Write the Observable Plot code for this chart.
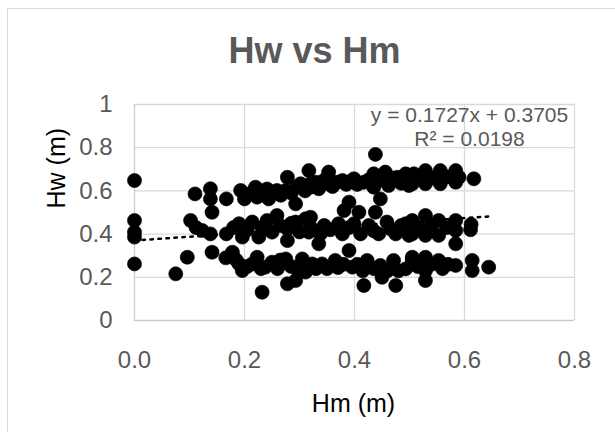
<!DOCTYPE html>
<html><head><meta charset="utf-8">
<script src="https://cdn.jsdelivr.net/npm/d3@7"></script>
<script src="https://cdn.jsdelivr.net/npm/@observablehq/plot@0.6"></script>
<style>
html,body{margin:0;padding:0;background:#fff;overflow:hidden;width:615px;height:432px;}
#frame{position:absolute;left:7px;top:8px;width:700px;height:500px;border-left:1px solid #d9d9d9;border-top:1px solid #d9d9d9;}
#chart{position:absolute;left:0;top:0;}
</style></head><body>
<div id="frame"></div><div id="chart"></div>
<script>
const title = "Hw vs Hm";
const xTitle = "Hm (m)";
const yTitle = "Hw (m)";

// points near x = 0 and the sparse left side
const hmEdge = [0,0,0,0,0, 0.075,0.096,0.110,0.102,0.112,0.123,0.138,0.138,0.141,0.138,0.141,0.167,0.167,0.178,0.166];
const hwEdge = [0.648,0.463,0.409,0.386,0.262, 0.216,0.293,0.586,0.463,0.430,0.417,0.610,0.563,0.501,0.401,0.316,0.563,0.401,0.316,0.290];

// upper band
const hmUpper = [0.193,0.200,0.212,0.220,0.223,0.232,0.241,0.244,0.250,0.259,
  0.266,0.275,0.278,0.285,0.293,0.295,0.302,0.310,0.317,0.320,
  0.320,0.330,0.335,0.345,0.353,0.353,0.360,0.368,0.378,0.385,
  0.393,0.399,0.405,0.417,0.425,0.435,0.435,0.438,0.447,0.447,
  0.456,0.462,0.468,0.478,0.485,0.493,0.499,0.505,0.508,0.518,
  0.529,0.529,0.540,0.556,0.556,0.568,0.584,0.590,0.584,0.617];
const hwUpper = [0.602,0.563,0.590,0.617,0.571,0.600,0.609,0.563,0.590,0.602,
  0.580,0.602,0.663,0.590,0.540,0.620,0.633,0.600,0.694,0.617,
  0.633,0.640,0.610,0.650,0.687,0.633,0.620,0.640,0.648,0.630,
  0.645,0.656,0.630,0.640,0.650,0.679,0.617,0.769,0.563,0.650,
  0.687,0.625,0.660,0.663,0.635,0.679,0.625,0.633,0.679,0.660,
  0.694,0.633,0.660,0.694,0.633,0.665,0.694,0.663,0.640,0.656];

// middle band
const hmMiddle = [0.180,0.190,0.196,0.205,0.214,0.226,0.232,0.241,0.250,0.259,
  0.265,0.278,0.278,0.285,0.293,0.300,0.311,0.317,0.320,0.320,
  0.338,0.335,0.345,0.356,0.371,0.378,0.390,0.399,0.411,0.426,
  0.435,0.444,0.459,0.465,0.475,0.485,0.493,0.499,0.505,0.505,
  0.518,0.529,0.529,0.540,0.553,0.553,0.568,0.584,0.584,0.584,
  0.612,0.611,0.381,0.390,0.408,0.438];
const hwMiddle = [0.430,0.448,0.386,0.420,0.456,0.386,0.430,0.463,0.409,0.486,
  0.440,0.424,0.370,0.450,0.456,0.410,0.471,0.409,0.478,0.432,
  0.401,0.355,0.440,0.420,0.448,0.401,0.430,0.448,0.401,0.440,
  0.415,0.401,0.456,0.425,0.401,0.440,0.448,0.394,0.463,0.401,
  0.430,0.486,0.394,0.440,0.463,0.394,0.430,0.463,0.417,0.355,
  0.445,0.420,0.509,0.548,0.501,0.501];

// lower band
const hmLower = [0.185,0.190,0.196,0.205,0.214,0.223,0.230,0.238,0.250,0.260,
  0.265,0.275,0.278,0.285,0.293,0.298,0.305,0.311,0.320,0.323,
  0.330,0.341,0.350,0.365,0.370,0.380,0.390,0.396,0.405,0.415,
  0.417,0.423,0.435,0.447,0.450,0.460,0.471,0.475,0.480,0.493,
  0.505,0.505,0.515,0.529,0.529,0.529,0.540,0.553,0.560,0.570,
  0.584,0.614,0.614,0.644,0.232];
const hwLower = [0.280,0.262,0.231,0.250,0.262,0.293,0.240,0.247,0.270,0.240,
  0.280,0.285,0.170,0.250,0.185,0.230,0.285,0.224,0.247,0.262,
  0.240,0.262,0.240,0.278,0.245,0.260,0.324,0.247,0.260,0.230,
  0.162,0.278,0.240,0.255,0.200,0.230,0.278,0.162,0.230,0.239,
  0.293,0.278,0.250,0.293,0.185,0.230,0.260,0.278,0.240,0.260,
  0.255,0.278,0.231,0.247,0.131];

const xTicks = [0, 0.2, 0.4, 0.6, 0.8];
const xTickLabels = ["0.0", "0.2", "0.4", "0.6", "0.8"];
const yTicks = [0, 0.2, 0.4, 0.6, 0.8, 1];
const yTickLabels = ["0", "0.2", "0.4", "0.6", "0.8", "1"];

const trendSlope = 0.1727;
const trendIntercept = 0.3705;
const trendLabels = ["y = 0.1727x + 0.3705", "R² = 0.0198"];

const hm = [...hmEdge, ...hmUpper, ...hmMiddle, ...hmLower];
const hw = [...hwEdge, ...hwUpper, ...hwMiddle, ...hwLower];
const points = hm.map((x, i) => ({x, y: hw[i]}));
const xMax = d3.max(hm);
const trend = [0, xMax].map(x => ({x, y: trendIntercept + trendSlope * x}));

const font = "'Liberation Sans', Arial, Helvetica, sans-serif";
const gridColor = "#d9d9d9";
const textGray = "#595959";

const chart = Plot.plot({
  width: 615,
  height: 432,
  marginLeft: 134,
  marginRight: 41,
  marginTop: 104,
  marginBottom: 112,
  style: {fontFamily: font, background: "transparent", overflow: "visible"},
  x: {domain: [0, 0.8]},
  y: {domain: [0, 1]},
  marks: [
    Plot.gridX(xTicks.filter(d => d > 0), {stroke: gridColor, strokeOpacity: 1, strokeWidth: 1.3}),
    Plot.gridY(yTicks.filter(d => d > 0), {stroke: gridColor, strokeOpacity: 1, strokeWidth: 1.3}),
    Plot.ruleX([0], {stroke: "#cccccc", strokeWidth: 1.3}),
    Plot.ruleY([0], {stroke: "#cccccc", strokeWidth: 1.3}),
    Plot.axisX(xTicks, {tickSize: 0, tickPadding: 30, fontSize: 24, fill: textGray,
      tickFormat: d => xTickLabels[xTicks.indexOf(d)], label: null}),
    Plot.axisY(yTicks, {tickSize: 0, tickPadding: 22, fontSize: 24, fill: textGray,
      tickFormat: d => yTickLabels[yTicks.indexOf(d)], label: null}),
    Plot.dot(points, {x: "x", y: "y", r: 7, fill: "black", stroke: "black", strokeWidth: 0.7}),
    Plot.line(trend, {x: "x", y: "y", stroke: "black", strokeWidth: 2.5, strokeDasharray: "2.5 5.5"}),
    Plot.text([title], {frameAnchor: "top", dx: -40, dy: -42, lineAnchor: "bottom",
      fontSize: 36, fontWeight: "bold", fill: textGray}),
    Plot.text([trendLabels[0]], {frameAnchor: "top", dx: 115, dy: 17.7, lineAnchor: "bottom",
      fontSize: 21, fill: textGray}),
    Plot.text([trendLabels[1]], {frameAnchor: "top", dx: 115, dy: 41, lineAnchor: "bottom",
      fontSize: 21, fill: textGray}),
    Plot.text([xTitle], {frameAnchor: "bottom", dx: -1, dy: 91, lineAnchor: "bottom",
      fontSize: 25, fill: "black"}),
    Plot.text([yTitle], {frameAnchor: "left", dx: -78, dy: -4, rotate: -90, lineAnchor: "middle",
      fontSize: 25, fill: "black"})
  ]
});
document.getElementById("chart").appendChild(chart);
</script>
</body></html>
